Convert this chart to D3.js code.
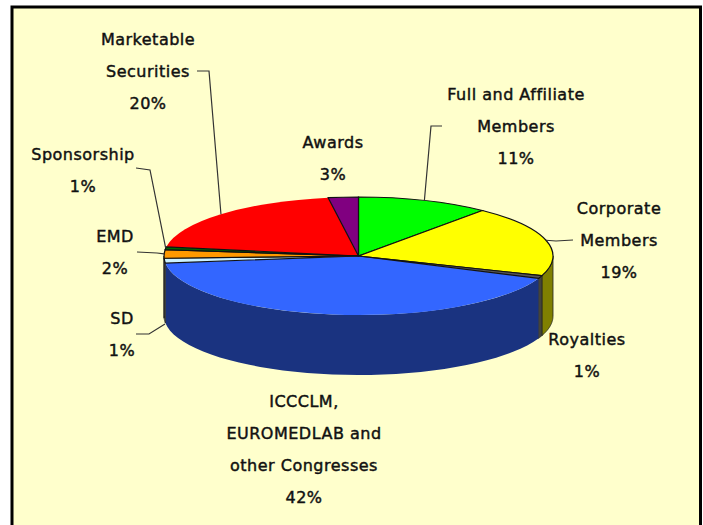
<!DOCTYPE html>
<html>
<head>
<meta charset="utf-8">
<script src="https://cdn.jsdelivr.net/npm/d3@7"></script>
<style>
  html, body { margin: 0; padding: 0; background: #fff; }
  text { font-family: "DejaVu Sans", sans-serif; font-size: 16px; letter-spacing: 0.5px; fill: #111; text-anchor: middle; stroke: #111; stroke-width: 0.45px; }
</style>
</head>
<body>
<svg id="chart" width="703" height="525"></svg>
<script>
// slices, clockwise from 12 o'clock
var categories = ["Full and Affiliate Members", "Corporate Members", "Royalties",
    "ICCCLM, EUROMEDLAB and other Congresses", "SD", "EMD", "Sponsorship",
    "Marketable Securities", "Awards"];
var values = [11, 19.4, 0.8, 41.9, 1.3, 2.3, 0.8, 20, 2.5];
var topColors = ["#00ff00", "#ffff00", "#555555", "#3366ff", "#ccf2ff", "#ff9900", "#006600", "#ff0000", "#800080"];
var sideColors = ["#008000", "#808000", "#44443a", "#1a3380", "#667a80", "#804c00", "#003300", "#800000", "#400040"];

var cx = 358.5, cy = 256, rx = 194.5, ry = 59, depth = 60;

var svg = d3.select("#chart");

// background panel
svg.append("rect")
    .attr("x", 12).attr("y", 7)
    .attr("width", 688.5).attr("height", 530)
    .attr("fill", "#ffffcc")
    .attr("stroke", "#000")
    .attr("stroke-width", 3);

var pie = d3.pie().sort(null).value(function (d) { return d; });
var arcs = pie(values);

// unit arc, squashed to an ellipse by the group transform
var arc = d3.arc().innerRadius(0).outerRadius(1);

function px(a) { return cx + rx * Math.sin(a); }
function py(a) { return cy - ry * Math.cos(a); }

// front wall, only the part between 3 and 9 o'clock shows
var side = svg.append("g");
arcs.forEach(function (d, i) {
    var a0 = Math.max(d.startAngle, Math.PI / 2),
        a1 = Math.min(d.endAngle, Math.PI * 1.5);
    if (a1 <= a0) return;
    var steps = d3.range(0, 41).map(function (k) { return a0 + (a1 - a0) * k / 40; });
    var upper = steps.map(function (a) { return [px(a), py(a)]; });
    var lower = steps.slice().reverse().map(function (a) { return [px(a), py(a) + depth]; });
    side.append("path")
        .attr("d", d3.line()(upper.concat(lower)) + "Z")
        .attr("fill", sideColors[i])
        .attr("stroke", categories[i].indexOf("ICCCLM") == 0 ? "none" : "#222")
        .attr("stroke-width", 0.8);
});

// top face. The big blue and red slices have no black rim, so they go down first
var noRim = [3, 7];
var order = d3.range(arcs.length).sort(function (a, b) {
    return (noRim.indexOf(b) >= 0) - (noRim.indexOf(a) >= 0);
});
svg.append("g")
    .attr("transform", "translate(" + cx + "," + cy + ") scale(" + rx + "," + ry + ")")
    .selectAll("path")
    .data(order)
    .enter().append("path")
    .attr("d", function (i) { return arc(arcs[i]); })
    .attr("fill", function (i) { return topColors[i]; })
    .attr("stroke", function (i) { return noRim.indexOf(i) >= 0 ? "none" : "#111"; })
    .attr("stroke-width", 1.2)
    .attr("vector-effect", "non-scaling-stroke");

// labels: index of slice, centre x, first baseline, lines
var labels = [
    { i: 0, x: 516, y: 100, lines: ["Full and Affiliate", "Members"] },
    { i: 1, x: 619, y: 214, lines: ["Corporate", "Members"] },
    { i: 2, x: 587, y: 345, lines: ["Royalties"] },
    { i: 3, x: 304, y: 407, lines: ["ICCCLM,", "EUROMEDLAB and", "other Congresses"] },
    { i: 4, x: 122, y: 324, lines: ["SD"] },
    { i: 5, x: 115, y: 242, lines: ["EMD"] },
    { i: 6, x: 83, y: 160, lines: ["Sponsorship"] },
    { i: 7, x: 148, y: 45, lines: ["Marketable", "Securities"] },
    { i: 8, x: 333, y: 148, lines: ["Awards"] }
];
var lineGap = 32;

labels.forEach(function (l) {
    var t = svg.append("text").attr("x", l.x).attr("y", l.y);
    l.lines.concat(Math.round(values[l.i]) + "%").forEach(function (s, k) {
        t.append("tspan")
            .attr("x", l.x)
            .attr("y", l.y + k * lineGap)
            .text(s);
    });
});

// leader lines: start near the label, bend, end on the slice rim
var leaders = [
    { i: 0, pts: [[442, 126], [431, 126]] },
    { i: 1, pts: [[573, 240], [556, 241]] },
    { i: 4, pts: [[136, 334], [149, 334], [165, 324]], noRim: true },
    { i: 5, pts: [[137, 252], [157, 253]] },
    { i: 6, pts: [[136, 168], [150, 170]] },
    { i: 7, pts: [[197, 71], [209, 71]] }
];
leaders.forEach(function (l) {
    var mid = (arcs[l.i].startAngle + arcs[l.i].endAngle) / 2;
    var pts = l.noRim ? l.pts : l.pts.concat([[px(mid), py(mid)]]);
    svg.append("path")
        .attr("d", d3.line()(pts))
        .attr("fill", "none")
        .attr("stroke", "#333")
        .attr("stroke-width", 1.2);
});
</script>
</body>
</html>
